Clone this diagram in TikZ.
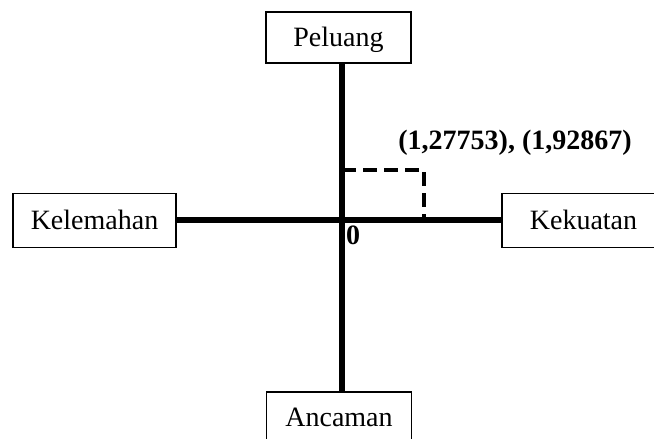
\documentclass[tikz,border=0pt]{standalone}
\usepackage{fontspec}
\setmainfont{Liberation Serif}
\begin{document}
\begin{tikzpicture}[x=1pt,y=-1pt,
  box/.style={draw=black,line width=1.5pt,fill=white,inner sep=0pt,
    minimum height=51pt,text height=18.6pt,text depth=0pt,
    font=\fontsize{28}{32}\selectfont},
  axis/.style={line width=6pt},
  guide/.style={line width=3.2pt,dash pattern=on 14pt off 7pt},
  lbl/.style={font=\fontsize{28}{32}\selectfont\bfseries,inner sep=0pt}]
\useasboundingbox (0,0) rectangle (654,439);
\coordinate (O) at (342,220);
\coordinate (D) at (424,170);
\node[box,minimum width=145pt] (P) at (338.5,37.5) {Peluang};
\node[box,minimum width=145pt] (A) at (339,417.5) {Ancaman};
\node[box,minimum width=163pt,minimum height=54pt] (W) at (94.5,220.5) {Kelemahan};
\node[box,minimum width=163pt,minimum height=54pt] (S) at (583.5,220.5) {Kekuatan};
\draw[guide] (O |- D) -- (D) -- (D |- O);
\draw[axis] (P.south -| O) -- (A.north -| O);
\draw[axis] (W.east |- O) -- (S.west |- O);
\node[lbl] (L) at (515,143) {(1,27753), (1,92867)};
\node[lbl,anchor=north west] (Z) at (346,226) {0};
\end{tikzpicture}
\end{document}
